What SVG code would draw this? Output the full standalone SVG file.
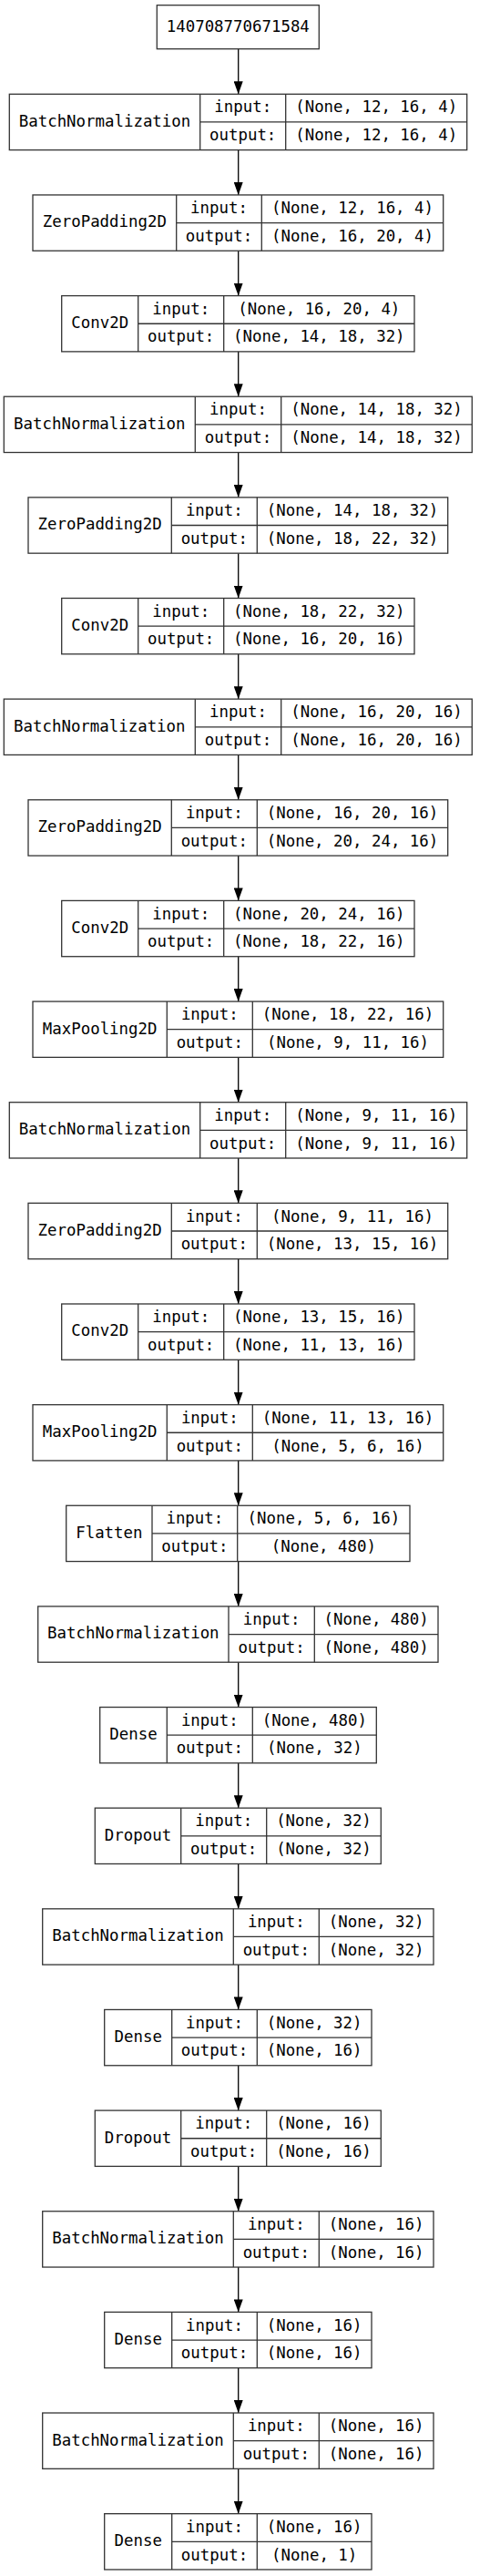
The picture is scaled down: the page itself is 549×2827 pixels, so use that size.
<svg xmlns="http://www.w3.org/2000/svg" width="549" height="2827" viewBox="0 0 549 2827">
<style>
.b{fill:#fff;stroke:#333;stroke-width:1.3}
.d{stroke:#333;stroke-width:1.3;fill:none}
text{font-family:"DejaVu Sans Mono","Liberation Mono",monospace;font-size:17.4px;fill:#000;text-anchor:middle}
.e{stroke:#000;stroke-width:1.3;fill:none;marker-end:url(#ah)}
</style>
<defs>
<marker id="ah" markerUnits="userSpaceOnUse" viewBox="0 0 14 10" markerWidth="14" markerHeight="10" refX="14" refY="5" orient="auto">
<path d="M0,0 L14,5 L0,10 z" fill="#000"/>
</marker>
</defs>
<rect width="549" height="2827" fill="#fff"/>
<g id="connectors">
<path class="e" d="M261.7,53.7V103.3"/>
<path class="e" d="M261.7,164.6V213.94"/>
<path class="e" d="M261.7,275.24V324.58"/>
<path class="e" d="M261.7,385.88V435.22"/>
<path class="e" d="M261.7,496.52V545.86"/>
<path class="e" d="M261.7,607.16V656.5"/>
<path class="e" d="M261.7,717.8V767.14"/>
<path class="e" d="M261.7,828.44V877.78"/>
<path class="e" d="M261.7,939.08V988.42"/>
<path class="e" d="M261.7,1049.72V1099.06"/>
<path class="e" d="M261.7,1160.36V1209.7"/>
<path class="e" d="M261.7,1271V1320.34"/>
<path class="e" d="M261.7,1381.64V1430.98"/>
<path class="e" d="M261.7,1492.28V1541.62"/>
<path class="e" d="M261.7,1602.92V1652.26"/>
<path class="e" d="M261.7,1713.56V1762.9"/>
<path class="e" d="M261.7,1824.2V1873.54"/>
<path class="e" d="M261.7,1934.84V1984.18"/>
<path class="e" d="M261.7,2045.48V2094.82"/>
<path class="e" d="M261.7,2156.12V2205.46"/>
<path class="e" d="M261.7,2266.76V2316.1"/>
<path class="e" d="M261.7,2377.4V2426.74"/>
<path class="e" d="M261.7,2488.04V2537.38"/>
<path class="e" d="M261.7,2598.68V2648.02"/>
<path class="e" d="M261.7,2709.32V2758.66"/>
</g>
<g id="input">
<rect class="b" x="172.3" y="5.7" width="178" height="48"/>
<text x="261.3" y="34.6">140708770671584</text>
</g>
<g id="n1" transform="translate(0,103.3)">
<rect class="b" x="10.3" y="0" width="502.4" height="61.3"/>
<path class="d" d="M219.7,0V61.3M313.7,0V61.3M219.7,30.65H512.7"/>
<text x="115" y="35.5">BatchNormalization</text>
<text x="266.7" y="20.2">input:</text><text x="266.7" y="50.9">output:</text>
<text x="413.2" y="20.2">(None, 12, 16, 4)</text><text x="413.2" y="50.9">(None, 12, 16, 4)</text>
</g>
<g id="n2" transform="translate(0,213.94)">
<rect class="b" x="36" y="0" width="450.7" height="61.3"/>
<path class="d" d="M193.7,0V61.3M287.3,0V61.3M193.7,30.65H486.7"/>
<text x="114.85" y="35.5">ZeroPadding2D</text>
<text x="240.5" y="20.2">input:</text><text x="240.5" y="50.9">output:</text>
<text x="387" y="20.2">(None, 12, 16, 4)</text><text x="387" y="50.9">(None, 16, 20, 4)</text>
</g>
<g id="n3" transform="translate(0,324.58)">
<rect class="b" x="67.7" y="0" width="387.3" height="61.3"/>
<path class="d" d="M151.7,0V61.3M245.7,0V61.3M151.7,30.65H455"/>
<text x="109.7" y="35.5">Conv2D</text>
<text x="198.7" y="20.2">input:</text><text x="198.7" y="50.9">output:</text>
<text x="350.35" y="20.2">(None, 16, 20, 4)</text><text x="350.35" y="50.9">(None, 14, 18, 32)</text>
</g>
<g id="n4" transform="translate(0,435.22)">
<rect class="b" x="4.3" y="0" width="514" height="61.3"/>
<path class="d" d="M214.3,0V61.3M308.7,0V61.3M214.3,30.65H518.3"/>
<text x="109.3" y="35.5">BatchNormalization</text>
<text x="261.5" y="20.2">input:</text><text x="261.5" y="50.9">output:</text>
<text x="413.5" y="20.2">(None, 14, 18, 32)</text><text x="413.5" y="50.9">(None, 14, 18, 32)</text>
</g>
<g id="n5" transform="translate(0,545.86)">
<rect class="b" x="31" y="0" width="460.7" height="61.3"/>
<path class="d" d="M188.3,0V61.3M282.3,0V61.3M188.3,30.65H491.7"/>
<text x="109.65" y="35.5">ZeroPadding2D</text>
<text x="235.3" y="20.2">input:</text><text x="235.3" y="50.9">output:</text>
<text x="387" y="20.2">(None, 14, 18, 32)</text><text x="387" y="50.9">(None, 18, 22, 32)</text>
</g>
<g id="n6" transform="translate(0,656.5)">
<rect class="b" x="67.7" y="0" width="387.3" height="61.3"/>
<path class="d" d="M151.7,0V61.3M245.7,0V61.3M151.7,30.65H455"/>
<text x="109.7" y="35.5">Conv2D</text>
<text x="198.7" y="20.2">input:</text><text x="198.7" y="50.9">output:</text>
<text x="350.35" y="20.2">(None, 18, 22, 32)</text><text x="350.35" y="50.9">(None, 16, 20, 16)</text>
</g>
<g id="n7" transform="translate(0,767.14)">
<rect class="b" x="4.3" y="0" width="514" height="61.3"/>
<path class="d" d="M214.3,0V61.3M308.7,0V61.3M214.3,30.65H518.3"/>
<text x="109.3" y="35.5">BatchNormalization</text>
<text x="261.5" y="20.2">input:</text><text x="261.5" y="50.9">output:</text>
<text x="413.5" y="20.2">(None, 16, 20, 16)</text><text x="413.5" y="50.9">(None, 16, 20, 16)</text>
</g>
<g id="n8" transform="translate(0,877.78)">
<rect class="b" x="31" y="0" width="460.7" height="61.3"/>
<path class="d" d="M188.3,0V61.3M282.3,0V61.3M188.3,30.65H491.7"/>
<text x="109.65" y="35.5">ZeroPadding2D</text>
<text x="235.3" y="20.2">input:</text><text x="235.3" y="50.9">output:</text>
<text x="387" y="20.2">(None, 16, 20, 16)</text><text x="387" y="50.9">(None, 20, 24, 16)</text>
</g>
<g id="n9" transform="translate(0,988.42)">
<rect class="b" x="67.7" y="0" width="387.3" height="61.3"/>
<path class="d" d="M151.7,0V61.3M245.7,0V61.3M151.7,30.65H455"/>
<text x="109.7" y="35.5">Conv2D</text>
<text x="198.7" y="20.2">input:</text><text x="198.7" y="50.9">output:</text>
<text x="350.35" y="20.2">(None, 20, 24, 16)</text><text x="350.35" y="50.9">(None, 18, 22, 16)</text>
</g>
<g id="n10" transform="translate(0,1099.06)">
<rect class="b" x="36" y="0" width="450.7" height="61.3"/>
<path class="d" d="M183.3,0V61.3M277.3,0V61.3M183.3,30.65H486.7"/>
<text x="109.65" y="35.5">MaxPooling2D</text>
<text x="230.3" y="20.2">input:</text><text x="230.3" y="50.9">output:</text>
<text x="382" y="20.2">(None, 18, 22, 16)</text><text x="382" y="50.9">(None, 9, 11, 16)</text>
</g>
<g id="n11" transform="translate(0,1209.7)">
<rect class="b" x="10.3" y="0" width="502.4" height="61.3"/>
<path class="d" d="M219.7,0V61.3M313.7,0V61.3M219.7,30.65H512.7"/>
<text x="115" y="35.5">BatchNormalization</text>
<text x="266.7" y="20.2">input:</text><text x="266.7" y="50.9">output:</text>
<text x="413.2" y="20.2">(None, 9, 11, 16)</text><text x="413.2" y="50.9">(None, 9, 11, 16)</text>
</g>
<g id="n12" transform="translate(0,1320.34)">
<rect class="b" x="31" y="0" width="460.7" height="61.3"/>
<path class="d" d="M188.3,0V61.3M282.3,0V61.3M188.3,30.65H491.7"/>
<text x="109.65" y="35.5">ZeroPadding2D</text>
<text x="235.3" y="20.2">input:</text><text x="235.3" y="50.9">output:</text>
<text x="387" y="20.2">(None, 9, 11, 16)</text><text x="387" y="50.9">(None, 13, 15, 16)</text>
</g>
<g id="n13" transform="translate(0,1430.98)">
<rect class="b" x="67.7" y="0" width="387.3" height="61.3"/>
<path class="d" d="M151.7,0V61.3M245.7,0V61.3M151.7,30.65H455"/>
<text x="109.7" y="35.5">Conv2D</text>
<text x="198.7" y="20.2">input:</text><text x="198.7" y="50.9">output:</text>
<text x="350.35" y="20.2">(None, 13, 15, 16)</text><text x="350.35" y="50.9">(None, 11, 13, 16)</text>
</g>
<g id="n14" transform="translate(0,1541.62)">
<rect class="b" x="36" y="0" width="450.7" height="61.3"/>
<path class="d" d="M183.3,0V61.3M277.3,0V61.3M183.3,30.65H486.7"/>
<text x="109.65" y="35.5">MaxPooling2D</text>
<text x="230.3" y="20.2">input:</text><text x="230.3" y="50.9">output:</text>
<text x="382" y="20.2">(None, 11, 13, 16)</text><text x="382" y="50.9">(None, 5, 6, 16)</text>
</g>
<g id="n15" transform="translate(0,1652.26)">
<rect class="b" x="72.7" y="0" width="377.3" height="61.3"/>
<path class="d" d="M167,0V61.3M260.7,0V61.3M167,30.65H450"/>
<text x="119.85" y="35.5">Flatten</text>
<text x="213.85" y="20.2">input:</text><text x="213.85" y="50.9">output:</text>
<text x="355.35" y="20.2">(None, 5, 6, 16)</text><text x="355.35" y="50.9">(None, 480)</text>
</g>
<g id="n16" transform="translate(0,1762.9)">
<rect class="b" x="41.7" y="0" width="439.3" height="61.3"/>
<path class="d" d="M251,0V61.3M345.3,0V61.3M251,30.65H481"/>
<text x="146.35" y="35.5">BatchNormalization</text>
<text x="298.15" y="20.2">input:</text><text x="298.15" y="50.9">output:</text>
<text x="413.15" y="20.2">(None, 480)</text><text x="413.15" y="50.9">(None, 480)</text>
</g>
<g id="n17" transform="translate(0,1873.54)">
<rect class="b" x="109.7" y="0" width="303.6" height="61.3"/>
<path class="d" d="M183.3,0V61.3M277.3,0V61.3M183.3,30.65H413.3"/>
<text x="146.5" y="35.5">Dense</text>
<text x="230.3" y="20.2">input:</text><text x="230.3" y="50.9">output:</text>
<text x="345.3" y="20.2">(None, 480)</text><text x="345.3" y="50.9">(None, 32)</text>
</g>
<g id="n18" transform="translate(0,1984.18)">
<rect class="b" x="104.3" y="0" width="314" height="61.3"/>
<path class="d" d="M198.7,0V61.3M292.7,0V61.3M198.7,30.65H418.3"/>
<text x="151.5" y="35.5">Dropout</text>
<text x="245.7" y="20.2">input:</text><text x="245.7" y="50.9">output:</text>
<text x="355.5" y="20.2">(None, 32)</text><text x="355.5" y="50.9">(None, 32)</text>
</g>
<g id="n19" transform="translate(0,2094.82)">
<rect class="b" x="46.7" y="0" width="429.3" height="61.3"/>
<path class="d" d="M256.3,0V61.3M350.3,0V61.3M256.3,30.65H476"/>
<text x="151.5" y="35.5">BatchNormalization</text>
<text x="303.3" y="20.2">input:</text><text x="303.3" y="50.9">output:</text>
<text x="413.15" y="20.2">(None, 32)</text><text x="413.15" y="50.9">(None, 32)</text>
</g>
<g id="n20" transform="translate(0,2205.46)">
<rect class="b" x="114.7" y="0" width="293.3" height="61.3"/>
<path class="d" d="M188.7,0V61.3M282.3,0V61.3M188.7,30.65H408"/>
<text x="151.7" y="35.5">Dense</text>
<text x="235.5" y="20.2">input:</text><text x="235.5" y="50.9">output:</text>
<text x="345.15" y="20.2">(None, 32)</text><text x="345.15" y="50.9">(None, 16)</text>
</g>
<g id="n21" transform="translate(0,2316.1)">
<rect class="b" x="104.3" y="0" width="314" height="61.3"/>
<path class="d" d="M198.7,0V61.3M292.7,0V61.3M198.7,30.65H418.3"/>
<text x="151.5" y="35.5">Dropout</text>
<text x="245.7" y="20.2">input:</text><text x="245.7" y="50.9">output:</text>
<text x="355.5" y="20.2">(None, 16)</text><text x="355.5" y="50.9">(None, 16)</text>
</g>
<g id="n22" transform="translate(0,2426.74)">
<rect class="b" x="46.7" y="0" width="429.3" height="61.3"/>
<path class="d" d="M256.3,0V61.3M350.3,0V61.3M256.3,30.65H476"/>
<text x="151.5" y="35.5">BatchNormalization</text>
<text x="303.3" y="20.2">input:</text><text x="303.3" y="50.9">output:</text>
<text x="413.15" y="20.2">(None, 16)</text><text x="413.15" y="50.9">(None, 16)</text>
</g>
<g id="n23" transform="translate(0,2537.38)">
<rect class="b" x="114.7" y="0" width="293.3" height="61.3"/>
<path class="d" d="M188.7,0V61.3M282.3,0V61.3M188.7,30.65H408"/>
<text x="151.7" y="35.5">Dense</text>
<text x="235.5" y="20.2">input:</text><text x="235.5" y="50.9">output:</text>
<text x="345.15" y="20.2">(None, 16)</text><text x="345.15" y="50.9">(None, 16)</text>
</g>
<g id="n24" transform="translate(0,2648.02)">
<rect class="b" x="46.7" y="0" width="429.3" height="61.3"/>
<path class="d" d="M256.3,0V61.3M350.3,0V61.3M256.3,30.65H476"/>
<text x="151.5" y="35.5">BatchNormalization</text>
<text x="303.3" y="20.2">input:</text><text x="303.3" y="50.9">output:</text>
<text x="413.15" y="20.2">(None, 16)</text><text x="413.15" y="50.9">(None, 16)</text>
</g>
<g id="n25" transform="translate(0,2758.66)">
<rect class="b" x="114.7" y="0" width="293.3" height="61.3"/>
<path class="d" d="M188.7,0V61.3M282.3,0V61.3M188.7,30.65H408"/>
<text x="151.7" y="35.5">Dense</text>
<text x="235.5" y="20.2">input:</text><text x="235.5" y="50.9">output:</text>
<text x="345.15" y="20.2">(None, 16)</text><text x="345.15" y="50.9">(None, 1)</text>
</g>
</svg>
